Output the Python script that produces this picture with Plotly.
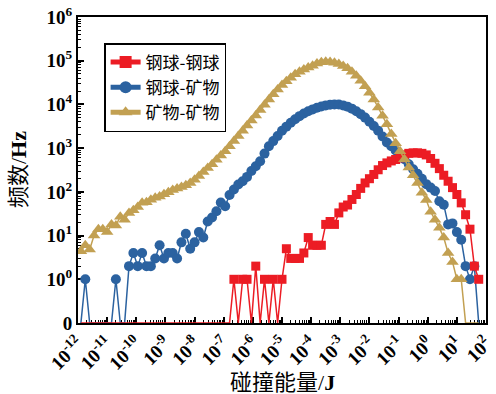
import plotly.graph_objects as go

# log10 of collision energy bin centres (J)
LOG_ENERGY = [-11.90, -11.75, -11.60, -11.45, -11.30, -11.15, -11.00, -10.85, -10.70, -10.55,
              -10.40, -10.25, -10.10, -9.95, -9.80, -9.65, -9.50, -9.35, -9.20, -9.05,
              -8.90, -8.75, -8.60, -8.45, -8.30, -8.15, -8.00, -7.85, -7.70, -7.55,
              -7.40, -7.25, -7.10, -6.95, -6.80, -6.65, -6.50, -6.35, -6.20, -6.05,
              -5.90, -5.75, -5.60, -5.45, -5.30, -5.15, -5.00, -4.85, -4.70, -4.55,
              -4.40, -4.25, -4.10, -3.95, -3.80, -3.65, -3.50, -3.35, -3.20, -3.05,
              -2.90, -2.75, -2.60, -2.45, -2.30, -2.15, -2.00, -1.85, -1.70, -1.55,
              -1.40, -1.25, -1.10, -0.95, -0.80, -0.65, -0.50, -0.35, -0.20, -0.05,
              0.10, 0.25, 0.40, 0.55, 0.70, 0.85, 1.00, 1.15, 1.30, 1.45,
              1.60, 1.75]

# 钢球-钢球
steel_steel = [0, 0, 0, 0, 0, 0, 0, 0, 0, 0,
               0, 0, 0, 0, 0, 0, 0, 0, 0, 0,
               0, 0, 0, 0, 0, 0, 0, 0, 0, 0,
               0, 0, 0, 0, 0, 1, 0, 1, 1, 0,
               2, 0, 1, 0, 1, 0, 1, 5, 3, 3,
               3, 4, 9, 6, 6, 6, 18, 21, 18, 33,
               45, 50, 67, 87, 120, 160, 200, 250, 320, 400,
               460, 510, 550, 600, 700, 760, 780, 780, 760, 700,
               580, 450, 340, 240, 175, 125, 87, 56, 30, 14,
               2, 1]

# 钢球-矿物
steel_mineral = [0, 1, 0, 0, 0, 0, 0, 0, 1, 0,
                 0, 2, 4, 2, 4, 2, 2, 3, 6, 3,
                 4, 4, 3, 7, 11, 5, 7, 12, 9, 21,
                 26, 36, 57, 47, 85, 113, 147, 175, 220, 300,
                 385, 500, 750, 1100, 1450, 1900, 2500, 3100, 3800, 4600,
                 5400, 6200, 7000, 7700, 8400, 9000, 9500, 9800, 10000, 10000,
                 9500, 8900, 8000, 7000, 6000, 5000, 4000, 3200, 2500, 1850,
                 1350, 1100, 880, 700, 560, 430, 330, 260, 200, 150,
                 125, 105, 61, 51, 18, 19, 12, 8, 2, 1,
                 2, 0]

# 矿物-矿物
mineral_mineral = [4.4, 6, 4.8, 10, 14, 14, 12, 18, 17, 27,
                   23, 33, 38, 45, 56, 58, 66, 73, 78, 88,
                   98, 110, 120, 130, 142, 160, 190, 230, 285, 350,
                   430, 540, 680, 850, 1100, 1450, 1900, 2500, 3300, 4300,
                   5600, 7500, 9800, 13000, 17000, 22000, 28000, 34000, 41000, 49000,
                   56000, 63000, 70000, 77000, 86000, 92000, 95000, 94000, 90000, 84000,
                   76000, 67000, 56000, 45000, 35000, 26000, 18500, 13000, 8500, 5500,
                   3500, 2100, 1300, 850, 560, 360, 240, 160, 95, 65,
                   35, 23, 15, 9, 4, 2.5, 1, 1, 0, 0,
                   0, 0]

SERIES_NAMES = ["钢球-钢球", "钢球-矿物", "矿物-矿物"]
X_TITLE = "碰撞能量/<b>J</b>"
Y_TITLE = "频数/<b>Hz</b>"
X_TICK_EXP = list(range(-12, 3))
Y_TICK_EXP = list(range(0, 7))
Y_ZERO_LABEL = "0"
ZERO_POS = 0.1  # the "0" position on the broken log axis

assert len(LOG_ENERGY) == len(steel_steel) == len(steel_mineral) == len(mineral_mineral)

energy = [10 ** e for e in LOG_ENERGY]


def plot_vals(v):
    return [ZERO_POS if a == 0 else a for a in v]


def sizes(v, s):
    return [0 if a == 0 else s for a in v]


RED = "#EC1C24"
BLUE = "#2B62A0"
GOLD = "#C2A052"

fig = go.Figure()
fig.add_trace(go.Scatter(x=energy, y=plot_vals(steel_mineral), name=SERIES_NAMES[1], mode="lines+markers",
                         line=dict(color=BLUE, width=1.5), legendrank=2,
                         marker=dict(symbol="circle", color=BLUE, size=sizes(steel_mineral, 10),
                                     opacity=1, line=dict(width=0))))
fig.add_trace(go.Scatter(x=energy, y=plot_vals(steel_steel), name=SERIES_NAMES[0], mode="lines+markers",
                         line=dict(color=RED, width=1.5), legendrank=1,
                         marker=dict(symbol="square", color=RED, size=sizes(steel_steel, 9),
                                     opacity=1, line=dict(width=0))))
fig.add_trace(go.Scatter(x=energy, y=plot_vals(mineral_mineral), name=SERIES_NAMES[2], mode="lines+markers",
                         line=dict(color=GOLD, width=1.5), legendrank=3,
                         marker=dict(symbol="triangle-up", color=GOLD, size=sizes(mineral_mineral, 11),
                                     opacity=1, line=dict(width=0))))

x_minor = [m * 10 ** k for k in range(-12, 2) for m in range(2, 10)]
y_minor = [m * 10 ** k for k in range(0, 6) for m in range(2, 10)]

axis_common = dict(showline=True, linecolor="black", linewidth=2, mirror=True, showgrid=False,
                   ticks="inside", ticklen=6, tickwidth=2, tickcolor="black", zeroline=False,
                   layer="below traces", automargin=False, ticklabeloverflow="allow")

fig.update_xaxes(type="log", range=[-12, 2], tickmode="array",
                 tickvals=[10 ** e for e in X_TICK_EXP],
                 ticktext=[f"10<sup>{e}</sup>" for e in X_TICK_EXP],
                 tickangle=-45,
                 tickfont=dict(family="Liberation Serif", size=19, color="black", weight="bold"),
                 minor=dict(ticks="inside", ticklen=3, tickwidth=1, tickcolor="black",
                            tickmode="array", tickvals=x_minor, showgrid=False),
                 **axis_common)

fig.update_yaxes(type="log", range=[-1, 6], tickmode="array",
                 tickvals=[ZERO_POS] + [10 ** e for e in Y_TICK_EXP],
                 ticktext=[Y_ZERO_LABEL] + [f"10<sup>{e}</sup>" for e in Y_TICK_EXP],
                 tickfont=dict(family="Liberation Serif", size=19, color="black", weight="bold"),
                 minor=dict(ticks="inside", ticklen=3, tickwidth=1, tickcolor="black",
                            tickmode="array", tickvals=y_minor, showgrid=False),
                 **axis_common)

title_font = dict(family="Liberation Serif, Noto Sans CJK SC", size=22, color="black")
fig.add_annotation(text=X_TITLE, xref="paper", yref="paper", x=0.5, y=-0.196,
                   xanchor="center", yanchor="middle", showarrow=False, font=title_font)
fig.add_annotation(text=Y_TITLE, xref="paper", yref="paper", x=-0.147, y=0.5, textangle=-90,
                   xanchor="center", yanchor="middle", showarrow=False, font=title_font)

fig.update_layout(
    width=496, height=394,
    margin=dict(l=78, r=10, t=17, b=71),
    plot_bgcolor="white", paper_bgcolor="white",
    font=dict(family="Liberation Serif, Noto Sans CJK SC", color="black"),
    showlegend=True,
    legend=dict(x=0.064, y=0.915, xanchor="left", yanchor="top",
                bgcolor="white", bordercolor="black", borderwidth=1.5,
                font=dict(family="Noto Sans CJK SC", size=17, color="black"),
                itemwidth=30, itemsizing="constant", tracegroupgap=0),
)

fig.write_html("out.html", config={"displayModeBar": False},
               post_script="document.body.style.margin='0px';document.body.style.overflow='hidden';")
